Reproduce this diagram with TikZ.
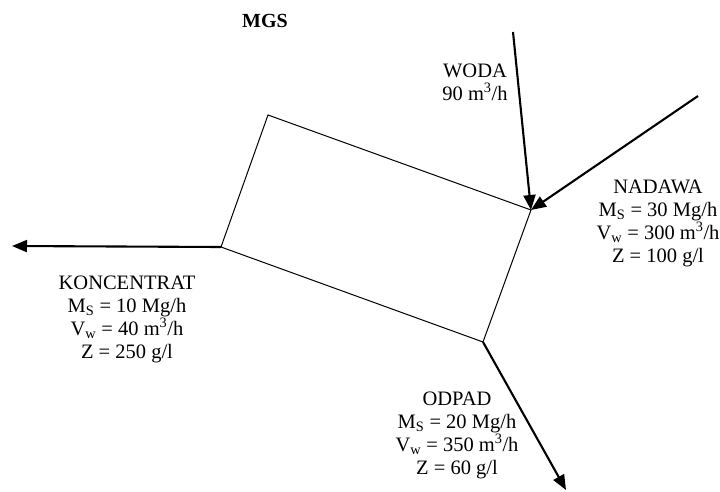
\documentclass[tikz,border=0pt]{standalone}
\usepackage{fontspec}
\setmainfont{Liberation Serif}
\usetikzlibrary{arrows.meta}
\begin{document}
\begin{tikzpicture}[x=1pt,y=-1pt,
  unit/.style={line width=1pt},
  flow/.style={line width=2.1pt,-{Triangle[length=15pt,width=12pt]}},
  info/.style={align=center,inner sep=0pt,font=\fontsize{20.5}{23}\selectfont}]
\useasboundingbox (0,0) rectangle (720,492);

% corners of the separator box
\coordinate (tl) at (268,115);
\coordinate (rc) at (531,210);
\coordinate (bc) at (483,342);
\coordinate (lc) at (221,247);
\draw[unit,line join=miter] (tl) -- (rc) -- (bc) -- (lc) -- cycle;

% free ends of the streams
\coordinate (wodaIn) at (513,32);
\coordinate (nadIn) at (698,96);
\coordinate (konOut) at (12,246);
\coordinate (odpOut) at (566,490);

\draw[flow] (wodaIn) -- (rc);
\draw[flow] (nadIn) -- (rc);
\draw[flow] (lc) -- (konOut);
\draw[flow] (bc) -- (odpOut);

% labels
\node[info,font=\fontsize{20}{23}\selectfont\bfseries,anchor=base] (mgs) at (265,28) {MGS};
\node[info,anchor=center] (woda) at (475,82) {WODA\\90 m\textsuperscript{3}/h};
\node[info,anchor=center] (nadawa) at (658,223)
  {NADAWA\\M\textsubscript{S} = 30 Mg/h\\V\textsubscript{w} = 300 m\textsuperscript{3}/h\\Z = 100 g/l};
\node[info,anchor=center] (konc) at (127,319)
  {KONCENTRAT\\M\textsubscript{S} = 10 Mg/h\\V\textsubscript{w} = 40 m\textsuperscript{3}/h\\Z = 250 g/l};
\node[info,anchor=center] (odpad) at (457,435)
  {ODPAD\\M\textsubscript{S} = 20 Mg/h\\V\textsubscript{w} = 350 m\textsuperscript{3}/h\\Z = 60 g/l};
\end{tikzpicture}
\end{document}
